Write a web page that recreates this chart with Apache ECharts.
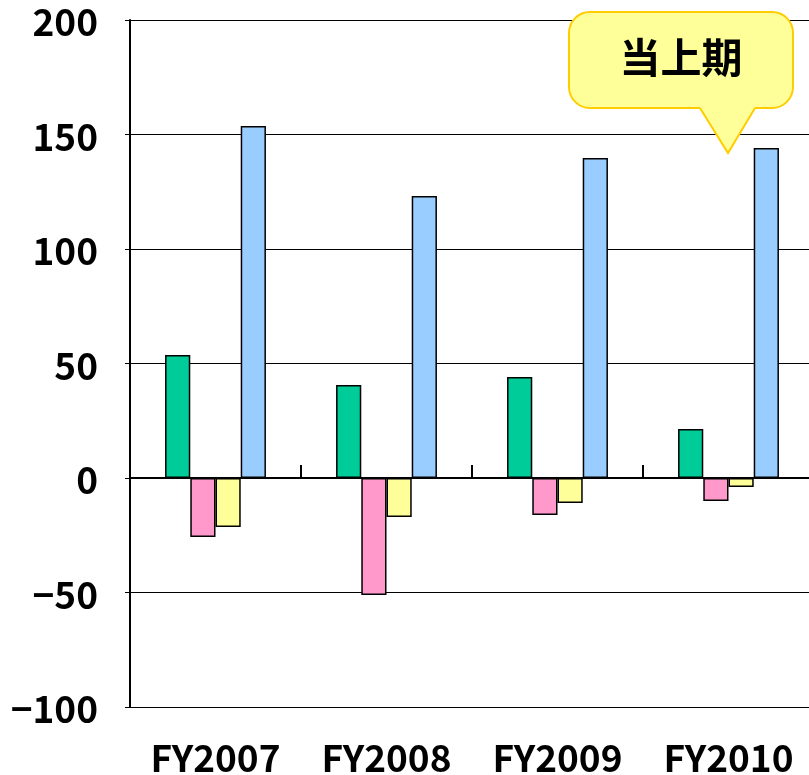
<!DOCTYPE html>
<html>
<head>
<meta charset="utf-8">
<script src="https://cdn.jsdelivr.net/npm/echarts@6/dist/echarts.min.js"></script>
<style>
html, body { margin: 0; padding: 0; background: #fff; }
#chart { width: 809px; height: 775px; }
</style>
</head>
<body>
<div id="chart"></div>
<script>
// data
var categories = ['FY2007', 'FY2008', 'FY2009', 'FY2010'];
var greenVals = [53.7, 40.6, 44.1, 21.4];
var pinkVals = [-25.8, -51.1, -16.2, -10.0];
var yellowVals = [-21.4, -17.0, -10.9, -3.9];
var blueVals = [153.7, 123.1, 139.7, 144.1];
var yTicks = { min: -100, max: 200, step: 50 };
var calloutText = '当上期';

var labelFont = '"Noto Sans CJK JP"';

function barSeries(vals, color) {
  return {
    type: 'bar',
    xAxisIndex: 0,
    data: vals,
    barGap: '0%',
    barCategoryGap: '41%',
    itemStyle: { color: color, borderColor: '#000', borderWidth: 1.5 },
    emphasis: { disabled: true }
  };
}

// callout balloon: rounded box + tail
var L = 569, R = 793, T = 12, B = 108;
var balloonFill = '#FFFF99', balloonLine = '#FFCC00';

var myChart = echarts.init(document.getElementById('chart'), null, { renderer: 'canvas' });
var option = {
  animation: false,
  grid: { left: 130, top: 20, width: 684, height: 687, containLabel: false, outerBoundsMode: 'none' },
  xAxis: [
    {
      type: 'category',
      data: categories,
      z: 5,
      axisLine: { show: true, onZero: true, lineStyle: { color: '#000', width: 2 } },
      axisTick: { show: true, inside: true, length: 13, interval: 0, lineStyle: { color: '#000', width: 2 } },
      axisLabel: { show: false }
    },
    {
      type: 'category',
      data: categories,
      position: 'bottom',
      axisLine: { show: false, onZero: false },
      axisTick: { show: false },
      axisLabel: {
        margin: 32,
        color: '#000',
        fontFamily: labelFont,
        fontWeight: 'bold',
        fontSize: 37
      }
    }
  ],
  yAxis: {
    type: 'value',
    min: yTicks.min,
    max: yTicks.max,
    interval: yTicks.step,
    axisLine: { show: true, lineStyle: { color: '#000', width: 2 } },
    axisTick: { show: true, length: 5, lineStyle: { color: '#000', width: 1 } },
    splitLine: { lineStyle: { color: '#000', width: 1 } },
    axisLabel: {
      margin: 32,
      lineHeight: 4,
      color: '#000',
      fontFamily: labelFont,
      fontWeight: 'bold',
      fontSize: 37,
      // empty first line nudges the number a little below its gridline, as in the original
      formatter: function (v) { return '\n' + (v < 0 ? '\u2212' + Math.abs(v) : String(v)); }
    }
  },
  series: [
    barSeries(greenVals, '#00CC99'),
    barSeries(pinkVals, '#FF99CC'),
    barSeries(yellowVals, '#FFFF99'),
    barSeries(blueVals, '#99CCFF')
  ],
  graphic: [
    {
      type: 'rect',
      shape: { x: L, y: T, width: R - L, height: B - T, r: 21 },
      style: { fill: balloonFill, stroke: balloonLine, lineWidth: 2 },
      z: 100
    },
    {
      type: 'polygon',
      shape: { points: [[700, B - 2], [755, B - 2], [755, B], [728, 153], [700, B]] },
      style: { fill: balloonFill, stroke: null },
      z: 101
    },
    {
      type: 'polyline',
      shape: { points: [[700, B], [728, 153], [755, B]] },
      style: { stroke: balloonLine, lineWidth: 2, fill: null },
      z: 101
    },
    {
      type: 'text',
      x: 681,
      y: 57,
      style: {
        text: calloutText,
        fill: '#000',
        font: 'bold 41px "Noto Sans CJK JP"',
        align: 'center',
        verticalAlign: 'middle'
      },
      z: 102
    }
  ]
};
myChart.setOption(option);
</script>
</body>
</html>
